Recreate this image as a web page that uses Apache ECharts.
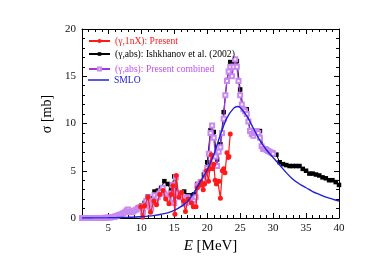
<!DOCTYPE html>
<html><head><meta charset="utf-8">
<script src="https://cdn.jsdelivr.net/npm/echarts@6/dist/echarts.min.js"></script>
<style>html,body{margin:0;padding:0;background:#fff}#c{width:386px;height:273px}</style>
</head><body><div id="c"></div>
<script>
// ---- data ----
const redE = [9.9,10.2,10.5,11.0,11.4,11.9,12.3,12.8,13.3,13.7,14.2,14.5,14.8,15.1,15.3,15.7,16.1,16.4,16.7,17.1,17.6,17.9,18.3,18.5,18.9,19.1,19.4,19.6,19.9,20.2,20.4,20.6,20.8,21.0,21.2,21.4,21.6,21.8,22.0,22.3,22.5,22.7,23.0,23.2,23.3,23.5];
const redS = [1.2,0.1,1.3,2.2,0.6,1.8,1.4,2.5,2.9,2.0,1.5,2.5,3.4,0.4,4.5,2.2,2.7,1.8,0.7,2.0,1.6,1.2,1.2,3.2,3.5,3.8,3.0,3.6,5.0,3.9,5.2,6.7,5.2,5.7,4.0,3.6,3.9,3.9,2.1,5.0,5.2,4.8,6.9,6.4,6.5,8.9];

const blackE = [6.0,6.5,7.0,7.5,8.0,8.5,9.0,9.5,10.0,10.5,11.0,11.5,12.0,12.5,13.0,13.5,14.0,14.5,15.0,15.5,16.0,16.5,17.0,17.5,18.0,18.5,19.0,19.5,20.0,20.5,21.0,21.5,22.0,22.5,23.0,23.5,24.0,24.5,25.0,25.5,26.0,26.5,27.0,27.5,28.0,28.5,29.0,29.5,30.0,30.5,31.0,31.5,32.0,32.5,33.0,33.5,34.0,34.5,35.0,35.5,36.0,36.5,37.0,37.5,38.0,38.5,39.0,39.5,40.0];
const blackS = [0.1,0.2,0.4,0.6,0.9,0.7,0.8,1.1,1.3,1.6,2.3,2.1,2.8,2.9,3.2,3.9,3.6,2.9,4.4,2.5,2.5,2.8,2.4,2.4,2.5,3.6,3.7,4.6,5.9,9.3,9.1,6.2,7.8,11.2,14.6,16.5,16.3,16.6,13.6,11.5,11.5,9.3,8.8,9.2,9.2,7.4,7.3,7.0,6.9,6.7,5.9,5.7,5.6,5.5,5.5,5.5,5.5,5.2,5.0,4.7,4.7,4.6,4.5,4.3,4.2,4.0,4.0,3.8,3.5];

const purpleE = [1.0,1.25,1.5,1.75,2.0,2.25,2.5,2.75,3.0,3.25,3.5,3.75,4.0,4.25,4.5,4.75,5.0,5.25,5.5,5.75,6.0,6.25,6.5,6.75,7.0,7.25,7.5,7.75,8.0,8.25,8.5,8.75,9.0,9.25,9.5,9.75,10.0,10.25,10.5,10.75,11.0,11.25,11.5,11.75,12.0,12.25,12.5,12.75,13.0,13.25,13.5,13.75,14.0,14.25,14.5,14.75,15.0,15.25,15.5,15.75,16.0,16.25,16.5,16.75,17.0,17.25,17.5,17.75,18.0,18.25,18.5,18.75,19.0,19.25,19.5,19.75,20.0,20.25,20.5,20.75,21.0,21.25,21.5,21.75,22.0,22.25,22.5,22.75,23.0,23.25,23.5,23.75,24.0,24.25,24.5,24.75,25.0,25.25,25.5,25.75,26.0,26.25,26.5,26.75,27.0,27.25,27.5,27.75,28.0,28.25,28.5,28.75,29.0,29.25,29.5,29.75,30.0];
const purpleS = [0,0,0,0,0,0,0,0,0,0,0,0,0,0,0.02,0.03,0.05,0.05,0.08,0.1,0.15,0.2,0.3,0.35,0.4,0.5,0.6,0.8,0.9,0.7,0.6,0.7,0.8,0.9,1.0,1.1,1.2,0.6,1.3,1.8,2.2,1.2,1.0,1.8,2.4,1.7,2.2,2.6,2.8,3.2,2.6,2.4,2.2,2.0,2.6,3.5,1.6,4.3,2.6,2.3,2.6,2.2,1.5,1.6,2.2,2.0,2.0,1.7,1.9,2.2,3.4,3.5,3.8,3.6,4.0,4.8,5.3,6.8,9.0,9.8,8.5,6.5,5.5,7.0,7.5,9.0,10.5,13.0,14.5,15.5,16.0,15.0,16.0,16.8,16.0,14.5,13.0,12.0,11.5,11.3,11.0,10.2,9.2,8.9,8.7,9.0,9.2,9.0,8.5,7.6,7.3,7.3,7.2,7.1,7.0,6.9,6.8];

const smloE = [1,3,5,7,8,9,10,11,12,13,14,15,16,17,18,19,20,21,22,23,24,24.6,25,26,27,28,29,30,31,32,33,34,35,36,37,38,39,40];
const smloS = [0,0.01,0.02,0.05,0.07,0.1,0.15,0.2,0.28,0.4,0.55,0.8,1.2,1.75,2.7,3.9,5.1,6.7,8.8,10.6,11.6,11.8,11.7,10.8,9.5,8.2,7.2,6.4,5.6,4.8,4.1,3.6,3.2,2.8,2.5,2.2,2.0,1.8];

const xMajor = [5,10,15,20,25,30,35,40];
const legendNames = ['(\u03b3,1nX): Present','(\u03b3,abs): Ishkhanov et al. (2002)','(\u03b3,abs): Present combined','SMLO'];

const zip = (a,b) => a.map((v,i)=>[v,b[i]]);
const FONT = 'Liberation Serif';
const RED='#ff1a1a', BLACK='#000000', PURPLE='#a236d8', PURPLE_TXT='#c050ee', BLUE='#2020d8';

const chart = echarts.init(document.getElementById('c'), null, {renderer:'canvas'});
const baseX = {type:'value', min:1, max:40, gridIndex:0, splitLine:{show:false}};
const baseY = {type:'value', min:0, max:20, gridIndex:0, splitLine:{show:false}};
const lineSt = {show:true, lineStyle:{color:'#000', width:1}};
const legTxt = {fontFamily:FONT, fontSize:9.6, lineHeight:11};
function leg(top, name, color, extra){
  return Object.assign({orient:'vertical', left:88, top:top, itemWidth:21, itemHeight:5, itemGap:0, padding:0,
    textStyle:legTxt, data:[{name:name, textStyle:{color:color}}]}, extra||{});
}
chart.setOption({
  animation:false,
  backgroundColor:'#fff',
  textStyle:{fontFamily:FONT},
  grid:{left:82, right:47, top:29, bottom:55, containLabel:false, outerBoundsMode:'none'},
  legend:[
    leg(35.5, legendNames[0], RED),
    leg(48.5, legendNames[1], BLACK, {itemHeight:4.5}),
    leg(63.5, legendNames[2], PURPLE_TXT, {itemHeight:4}),
    Object.assign(leg(74.5, legendNames[3], BLUE), {itemHeight:1.5, icon:'rect'})
  ],
  xAxis:[
    Object.assign({}, baseX, {position:'bottom', axisLine:lineSt,
      axisTick:{show:true, inside:true, length:5, customValues:xMajor, lineStyle:{color:'#000'}},
      axisLabel:{show:true, customValues:xMajor, margin:5, color:'#111', fontFamily:FONT, fontSize:11},
      name:'{i|E} [MeV]', nameLocation:'middle', nameGap:19,
      nameTextStyle:{fontFamily:FONT, fontSize:15, color:'#000',
        rich:{i:{fontStyle:'italic', fontFamily:FONT, fontSize:15}}},
    }),
    Object.assign({}, baseX, {position:'bottom', interval:1, axisLine:{show:false},
      axisTick:{show:true, inside:true, length:3, lineStyle:{color:'#000'}}, axisLabel:{show:false}}),
    Object.assign({}, baseX, {position:'top', axisLine:lineSt,
      axisTick:{show:true, inside:true, length:5, customValues:xMajor, lineStyle:{color:'#000'}}, axisLabel:{show:false}}),
    Object.assign({}, baseX, {position:'top', interval:1, axisLine:{show:false},
      axisTick:{show:true, inside:true, length:3, lineStyle:{color:'#000'}}, axisLabel:{show:false}})
  ],
  yAxis:[
    Object.assign({}, baseY, {position:'left', interval:5, axisLine:lineSt,
      axisTick:{show:true, inside:true, length:5, lineStyle:{color:'#000'}},
      minorTick:{show:true, splitNumber:5, length:3, lineStyle:{color:'#000'}},
      axisLabel:{show:true, margin:6, color:'#111', fontFamily:FONT, fontSize:11},
      name:'\u03c3 [mb]', nameLocation:'middle', nameGap:25, nameRotate:90,
      nameTextStyle:{fontFamily:FONT, fontSize:14, color:'#000', padding:[0,0,0,19]}}),
    Object.assign({}, baseY, {position:'right', interval:5, axisLine:lineSt,
      axisTick:{show:true, inside:true, length:5, lineStyle:{color:'#000'}},
      minorTick:{show:true, splitNumber:5, length:3, lineStyle:{color:'#000'}},
      axisLabel:{show:false}})
  ],
  series:[
    {name:legendNames[1], type:'line', data:zip(blackE,blackS), symbol:'rect', symbolSize:4.5,
      lineStyle:{color:BLACK, width:1}, itemStyle:{color:BLACK}, z:2},
    {name:legendNames[2], type:'line', data:zip(purpleE,purpleS), symbol:'emptyRect', symbolSize:4,
      lineStyle:{color:PURPLE, width:1.3}, itemStyle:{color:'#c98aef', borderColor:'#c98aef', borderWidth:1}, z:3},
    {name:legendNames[0], type:'line', data:zip(redE,redS), symbol:'circle', symbolSize:5,
      lineStyle:{color:RED, width:1.2}, itemStyle:{color:RED}, z:4},
    {name:legendNames[3], type:'line', data:zip(smloE,smloS), symbol:'none', smooth:0.4,
      lineStyle:{color:BLUE, width:1.4}, itemStyle:{color:BLUE}, z:5}
  ]
});
</script></body></html>
